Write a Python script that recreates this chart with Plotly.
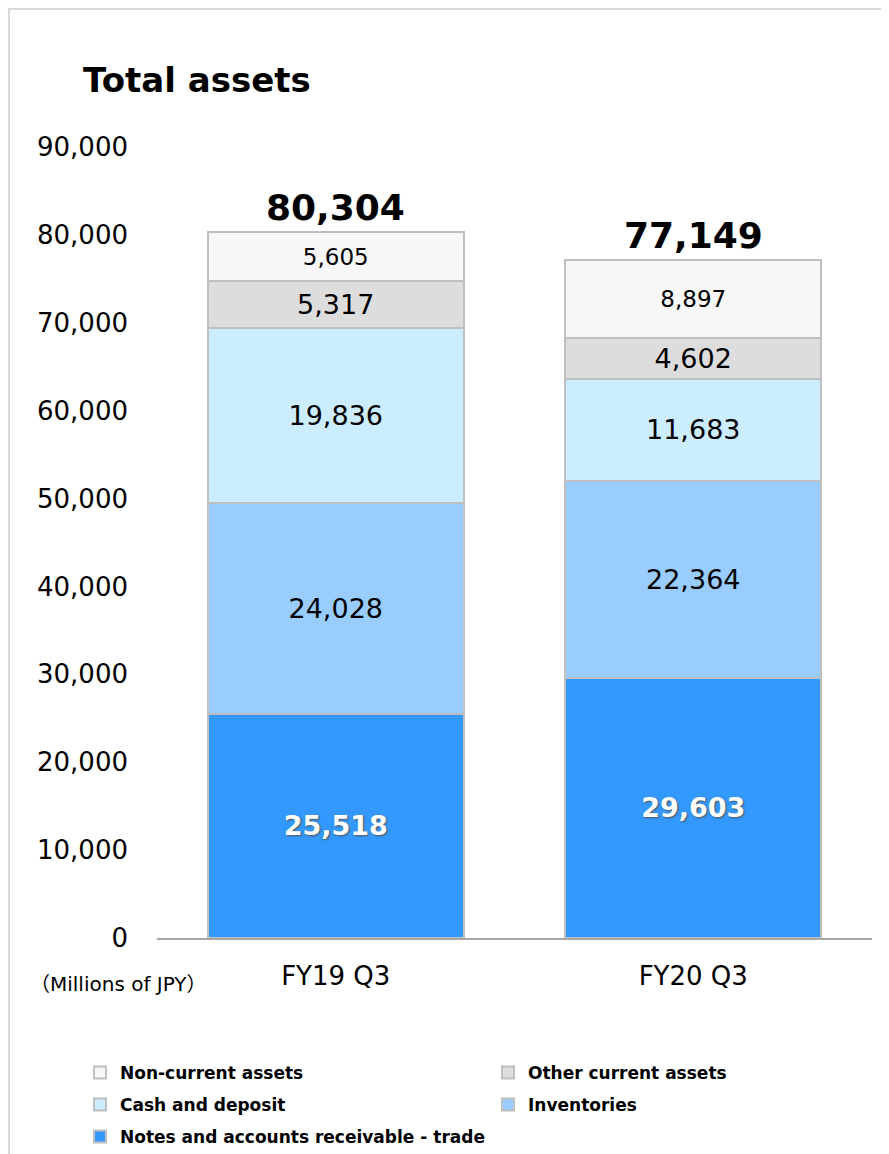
import plotly.graph_objects as go

categories = ["FY19 Q3", "FY20 Q3"]
notes_receivable = [25518, 29603]
inventories = [24028, 22364]
cash_deposit = [19836, 11683]
other_current = [5317, 4602]
non_current = [5605, 8897]
totals = [80304, 77149]
y_tick_vals = [0, 10000, 20000, 30000, 40000, 50000, 60000, 70000, 80000, 90000]

FONT = "DejaVu Sans, Verdana, Noto Sans CJK JP"

# page body has an 8px margin: figure coords = reference coords - 8
W, H = 881, 1180
PL, PR, PT, PB = 149, 864, 139, 930   # plot area in figure pixels
PW, PH = PR - PL, PB - PT


def px(xf):  # figure px -> paper x
    return (xf - PL) / PW


def py(yf):  # figure px -> paper y
    return (PB - yf) / PH


series = [
    ("Notes and accounts receivable - trade", notes_receivable, "#3399FF", "legend5",
     dict(size=27, color="white", weight="bold", shadow="1px 1px 2px #555555")),
    ("Inventories", inventories, "#99CCFF", "legend4", dict(size=27, color="black")),
    ("Cash and deposit", cash_deposit, "#CCECFF", "legend3", dict(size=27, color="black")),
    ("Other current assets", other_current, "#DDDDDD", "legend2", dict(size=27, color="black")),
    ("Non-current assets", non_current, "#F7F7F7", "legend", dict(size=23, color="black")),
]

fig = go.Figure()
for name, vals, color, leg, tf in series:
    tf = dict(tf)
    tf["family"] = FONT
    fig.add_trace(go.Bar(
        x=categories, y=vals, name=name, legend=leg, showlegend=True,
        marker=dict(color=color, line=dict(color="#BFBFBF", width=2)),
        text=[f"{v:,}" for v in vals], textposition="inside",
        insidetextanchor="middle", textangle=0, constraintext="none",
        textfont=tf, width=0.717, cliponaxis=False,
    ))

for c, t in zip(categories, totals):
    fig.add_annotation(x=c, y=t, text=f"<b>{t:,}</b>", showarrow=False,
                       yanchor="bottom", yshift=2,
                       font=dict(family=FONT, size=36, color="black"))

fig.add_annotation(xref="paper", yref="paper", x=px(20), y=py(976),
                   xanchor="left", yanchor="middle", showarrow=False,
                   text="（Millions of JPY）", font=dict(family=FONT, size=20, color="black"))

fig.add_shape(type="rect", xref="paper", yref="paper",
              x0=px(1), x1=px(W + 40), y0=py(H + 40), y1=py(1),
              line=dict(color="#D9D9D9", width=2), fillcolor="rgba(0,0,0,0)")

leg_font = dict(family=FONT, size=17, color="black", weight="bold")


def leg(xl, yc):
    return dict(orientation="h", xanchor="left", yanchor="middle",
                x=px(xl), y=py(yc), font=leg_font, bgcolor="rgba(0,0,0,0)",
                visible=True)


col1, col2 = 72, 480
rows = [1065, 1097, 1129]

fig.update_layout(
    width=W, height=H,
    margin=dict(l=PL, r=W - PR, t=PT, b=H - PB),
    paper_bgcolor="white", plot_bgcolor="white",
    barmode="stack", showlegend=True,
    title=dict(text="<b>Total assets</b>", x=75 / W, xanchor="left",
               y=1 - 72 / H, yanchor="middle",
               font=dict(family=FONT, size=34, color="black")),
    legend=leg(col1, rows[0]),
    legend2=leg(col2, rows[0]),
    legend3=leg(col1, rows[1]),
    legend4=leg(col2, rows[1]),
    legend5=leg(col1, rows[2]),
    xaxis=dict(showline=True, linecolor="#A6A6A6", linewidth=2, ticks="",
               tickfont=dict(family=FONT, size=26, color="black"),
               ticklabelstandoff=14, showgrid=False),
    yaxis=dict(range=[0, 90000], tickvals=y_tick_vals, tickformat=",",
               showgrid=False, zeroline=False, showline=False,
               tickfont=dict(family=FONT, size=26, color="black"),
               ticklabelstandoff=28),
)

fig.write_html("out.html")
